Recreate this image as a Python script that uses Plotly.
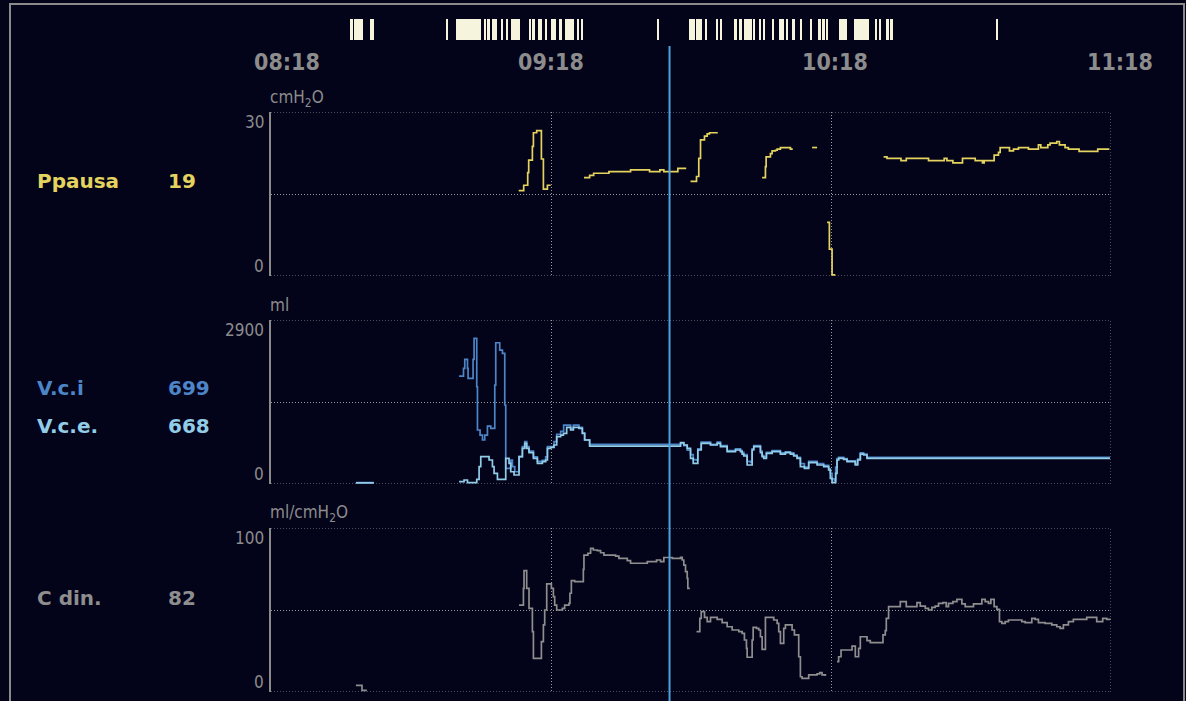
import plotly.graph_objects as go

# ---------------------------------------------------------------------------
# Time base: minutes after 08:18
# ---------------------------------------------------------------------------
time_ticks = [0, 60, 120, 180]
time_labels = ["08:18", "09:18", "10:18", "11:18"]
cursor_t = 85.4

# Ppausa (cmH2O) - None separates recording gaps
pp_t = [53.08, 54.15, 55.01, 55.22, 56.01, 56.23, 56.93, 57.94, 58.37, 59.23, 59.93, None,
        67.06, 68.28, 69.14, 72.41, 77.05, 81.12, 83.33, 84.18, 87.18, 88.98, None,
        89.90, 91.18, 91.67, 92.04, 92.89, 93.47, 93.96, 95.74, None,
        105.24, 105.95, 106.10, 107.02, 107.38, 108.09, 108.46, 109.16, 111.30, 111.80, None,
        115.95, 117.02, None,
        119.16, 119.65, 120.23, 120.93, None,
        131.27, 132.00, 135.00, 136.13, 140.90, 144.26, 144.84, 146.12, 148.18, 150.90,
        152.46, 152.82, 154.96, 155.89, 156.25, 158.24, 159.10, 160.17, 162.31, 164.45,
        164.96, 166.46, 166.95, 168.38, 168.94, 170.16, 170.87, 173.16, 177.16, 179.65]
pp_v = [15.6, 16.6, 18.9, 21.2, 23.7, 26.2, 26.6, 21.4, 15.9, 16.6, 16.6, None,
        18.0, 18.4, 18.8, 19.1, 19.4, 19.1, 19.4, 19.1, 19.7, 19.7, None,
        17.3, 18.2, 21.5, 24.9, 25.6, 26.0, 26.2, 26.2, None,
        18.0, 20.0, 21.8, 22.4, 22.9, 23.0, 23.2, 23.5, 23.2, 23.2, None,
        23.5, 23.5, None,
        9.8, 4.9, 0.2, 0.2, None,
        21.8, 21.5, 21.1, 21.5, 21.1, 21.5, 21.1, 20.7, 21.5, 21.1,
        20.7, 21.1, 22.1, 22.6, 23.5, 22.9, 23.2, 23.5, 23.2, 24.0,
        23.5, 24.0, 24.3, 24.6, 24.0, 23.5, 23.2, 22.8, 23.2, 23.2]

# V.c.e. - expired tidal volume (ml)
vce_t = [18.19, 22.05, None,
         40.30, 41.37, 42.10, 44.09, 44.59, 44.95, 46.02, 46.73, 47.45, 47.80, 48.52, 49.94,
         50.30, 51.01, 51.37, 52.08, 52.65, 53.15, 53.87, 54.37, 54.79, 55.29, 56.23, 57.08,
         58.15, 58.86, 59.23, 59.93, 60.64, 61.22, 62.07, 62.65, 63.36, 64.21, 64.79, 65.99,
         66.72, 67.21, 68.28, 87.05, 87.76, 88.46, 89.19, 89.90, 90.48, 91.18, 91.46, 92.19,
         94.18, 95.61, 96.32, 97.75, 99.53, 100.60, 100.96, 101.31, 102.03, 102.74, 103.10,
         103.45, 104.52, 104.88, 105.24, 105.59, 106.16, 107.38, 109.16, 110.23, 111.30,
         112.01, 112.73, 113.44, 114.30, 115.22, 117.02, 118.43, 119.50, 119.86, 120.23,
         120.72, 121.00, 121.29, 121.64, 122.71, 123.43, 125.21, 125.71, 126.28, 126.99,
         127.72, 179.79]
vce_v = [20, 20, None,
         41, 71, 23, 83, 306, 483, 483, 424, 306, 189, 83, 83,
         454, 366, 217, 159, 159, 483, 631, 720, 631, 554, 454, 366,
         395, 424, 631, 649, 690, 836, 866, 896, 1002, 955, 1002, 985,
         896, 778, 668, 668, 730, 690, 631, 454, 366, 366, 601, 720,
         690, 720, 660, 571, 601, 571, 530, 495, 336, 336, 601,
         660, 660, 554, 483, 454, 543, 571, 530, 554, 530,
         495, 454, 306, 278, 377, 336, 306, 248, 101, 23,
         23, 189, 424, 454, 437, 395, 336, 424, 530, 513,
         454, 454]

# V.c.i - inspired tidal volume (ml)
vci_t = [18.19, 22.05, None,
         40.30, 41.25, 41.52, 42.10, 42.23, 43.30, 43.52, 44.09, 44.24, 44.80, 45.31, 45.80,
         46.38, 47.09, 47.95, 48.16, 49.01, 49.59, 50.09, 50.30, 51.37, 51.73, 52.23, 52.80,
         53.15, 53.87, 54.37, 54.79, 55.29, 56.23, 57.08, 58.15, 58.86, 59.23, 60.64, 61.22,
         62.07, 62.71, 64.21, 64.79, 65.99, 66.72, 67.21, 68.28,
         87.05, 87.76, 88.46, 89.19, 89.90, 90.48, 91.18, 91.46, 92.19, 94.18, 95.61, 96.32,
         97.75, 99.53, 100.60, 100.96, 101.31, 102.03, 102.74, 103.10, 103.45, 104.52, 104.88,
         105.24, 105.59, 106.16, 107.38, 109.16, 110.23, 111.30, 112.01, 112.73, 113.44,
         114.30, 115.22, 117.02, 118.43, 119.50, 119.86, 120.23, 120.72, 121.00, 121.29,
         121.64, 122.71, 123.43, 125.21, 125.71, 126.28, 126.99, 127.72, 179.79]
vci_v = [25, 25, None,
         1909, 2045, 2204, 2045, 1869, 2204, 2576, 1720, 955, 866, 778, 866,
         1025, 985, 1750, 2498, 2369, 2311, 1397, 278, 424, 306, 217, 217,
         483, 660, 750, 660, 580, 480, 400, 420, 480, 660, 750, 880,
         930, 1040, 980, 1040, 1000, 900, 780, 699,
         699, 720, 680, 600, 520, 430, 420, 620, 740, 700, 740, 680,
         590, 620, 590, 560, 520, 400, 380, 620, 680, 680, 580,
         500, 480, 560, 590, 550, 570, 550, 510, 470, 360,
         300, 400, 360, 330, 270, 190, 90, 60, 300, 450,
         470, 450, 410, 350, 440, 550, 530, 470, 470]

# C din. - dynamic compliance (ml/cmH2O)
cd_t = [18.19, 19.50, 20.55, None,
        53.15, 54.09, 54.22, 54.79, 55.29, 56.01, 56.23, 57.94, 58.37, 58.65, 59.08, 60.08,
        60.51, 60.79, 61.22, 62.44, 62.93, 63.85, 64.06, 64.36, 65.07, 66.93, 67.06, 67.91,
        68.49, 69.07, 69.93, 70.63, 71.34, 73.84, 74.55, 76.35, 77.05, 80.63, 82.62, 83.48,
        84.18, 85.98, 87.76, 88.12, 88.46, 88.83, 89.19, 89.32, 89.75, None,
        91.18, 91.89, 92.19, 92.89, 93.47, 94.18, 95.61, 96.68, 97.75, 98.82, 100.24, 100.96,
        101.45, 101.88, 102.03, 103.10, 103.32, 104.02, 104.52, 104.88, 105.24, 105.95,
        107.73, 108.46, 108.80, 109.16, 109.87, 110.23, 111.66, 112.16, 113.08, 113.44,
        113.80, 115.22, 117.02, 117.58, 118.08, 118.79, None,
        121.29, 121.64, 122.15, 124.51, 125.21, 125.92, 126.28, 127.72, 128.42, 131.14,
        131.63, 131.85, 132.34, 134.85, 136.13, 138.42, 139.13, 140.20, 140.90, 141.63,
        142.34, 143.04, 143.98, 144.69, 145.18, 146.12, 146.98, 148.05, 148.76, 150.54,
        152.33, 153.04, 153.75, 154.26, 154.96, 155.55, 156.10, 156.61, 157.32, 158.02,
        160.89, 161.60, 163.03, 163.74, 164.45, 165.88, 167.31, 168.38, 169.09, 169.80,
        170.87, 171.94, 174.80, 176.94, 178.22, 179.08, 179.79]
cd_v = [4, 1, 1, None,
        53, 63.2, 74, 63.2, 51, 36.8, 20.5, 30.7, 40.9, 50, 65.9, 63.2,
        58.1, 53, 50, 51, 53, 54, 60.2, 67.9, 67.3, 74.8, 83.5, 84.6,
        87.6, 86.6, 86.2, 84.9, 83.5, 82.9, 81.5, 80.1, 78.5, 79.5, 80.5, 79.5,
        82, 81.5, 82.1, 80.5, 77.4, 73.4, 69.3, 63.2, 63.2, None,
        36.8, 44.9, 49, 45.5, 42.9, 45.5, 44.3, 42.3, 39.8, 37.8, 36.8, 35.8,
        31.7, 26.6, 21.2, 31.7, 39.4, 38.8, 37.8, 33.7, 26, 45.5,
        43.9, 41.9, 36.8, 29.7, 38.8, 40.9, 37.8, 34.8, 21.5, 9.3,
        8.3, 10.4, 11, 11.8, 10.4, 9.8, None,
        18.5, 21.5, 25.6, 28, 21.5, 26.6, 33.7, 31.3, 30.1, 34.8,
        37.4, 44.9, 52, 55.1, 52, 54.5, 52.4, 51, 50, 51.6,
        52.4, 54, 54.5, 52, 54, 55.1, 56.5, 53.7, 52, 53.7,
        56.5, 55.1, 54, 56.5, 52, 50.4, 42.9, 41.9, 42.9, 43.9,
        42.9, 42.3, 44.9, 44.3, 42.3, 41.9, 40.9, 39.8, 38.8, 40.9,
        42.9, 44.3, 45.5, 42.9, 44.9, 44.3, 43.9]

# Event log strip: start time and duration (minutes)
ev_start = [17.12, 17.83, 21.25, 37.67, 39.60, 45.65, 46.38, 47.45, 49.23, 50.30, 51.37,
            55.29, 56.01, 57.21, 58.65, 60.08, 61.71, 62.93, 65.65, 66.35, 82.62, 89.47,
            90.97, 93.02, 95.42, 96.23, 99.42, 100.38, 101.43, 103.42, 104.62, 105.44,
            107.43, 108.86, 110.47, 111.84, 113.42, 115.43, 117.42, 118.21, 119.03, 121.66,
            125.02, 129.43, 130.46, 131.98, 132.79, 155.26]
ev_dur = [0.36, 1.80, 0.73, 0.36, 5.35, 0.36, 0.56, 1.07, 0.58, 0.58, 1.99,
          0.36, 0.49, 0.94, 0.43, 0.92, 0.73, 1.99, 0.43, 0.58, 0.49, 1.28,
          1.28, 0.41, 0.41, 0.41, 0.41, 0.49, 1.58, 0.32, 0.41, 0.39,
          0.41, 1.13, 0.32, 0.39, 0.41, 0.47, 0.41, 0.41, 0.41, 1.76,
          3.04, 0.39, 0.32, 0.41, 0.39, 0.47]

# Panels: (unit, y max)
pp_unit, pp_max = "cmH<sub>2</sub>O", 30
vol_unit, vol_max = "ml", 2900
cd_unit, cd_max = "ml/cmH<sub>2</sub>O", 100


def value_at(ts, vs, t):
    """Step-hold value of a series at time t."""
    cur = None
    for a, b in zip(ts, vs):
        if a is None:
            continue
        if a <= t:
            cur = b
        else:
            break
    return cur


# ---------------------------------------------------------------------------
# Styling
# ---------------------------------------------------------------------------
W, H = 1186, 701
BG = "#03031a"
FRAME = "#8a8a8a"
GRID = "#9a9a9a"
TXT = "#8c8c8c"
C_PP = "#e4d35e"
C_VCI = "#4d86c8"
C_VCE = "#92cde8"
C_CD = "#8e8e8e"
C_CUR = "#4aa3dc"
C_EV = "#f6f4dc"
DOTS = "1px,2px"

NARROW = "DejaVu Sans Condensed, Liberation Sans Narrow, DejaVu Sans, sans-serif"
BOLD = "DejaVu Sans, sans-serif"

def px_x(p):
    return p / W

def px_y(p):
    return 1 - p / H

x_dom = [px_x(271), px_x(1111)]
panels = [
    (px_y(276), px_y(112)),
    (px_y(484), px_y(320)),
    (px_y(692), px_y(528)),
]

fig = go.Figure()

# event strip
fig.add_trace(go.Bar(
    x=[s + d / 2 for s, d in zip(ev_start, ev_dur)],
    y=[1] * len(ev_start),
    width=ev_dur,
    marker=dict(color=C_EV, line=dict(width=0)),
    xaxis="x4", yaxis="y4", hoverinfo="skip",
))

line_w = 1.7
fig.add_trace(go.Scatter(x=pp_t, y=pp_v, mode="lines", line=dict(color=C_PP, width=line_w, shape="hv"),
                         xaxis="x", yaxis="y", connectgaps=False, name="Ppausa"))
fig.add_trace(go.Scatter(x=vci_t, y=vci_v, mode="lines", line=dict(color=C_VCI, width=line_w, shape="hv"),
                         xaxis="x2", yaxis="y2", connectgaps=False, name="V.c.i"))
fig.add_trace(go.Scatter(x=vce_t, y=vce_v, mode="lines", line=dict(color=C_VCE, width=line_w, shape="hv"),
                         xaxis="x2", yaxis="y2", connectgaps=False, name="V.c.e."))
fig.add_trace(go.Scatter(x=cd_t, y=cd_v, mode="lines", line=dict(color=C_CD, width=line_w, shape="hv"),
                         xaxis="x3", yaxis="y3", connectgaps=False, name="C din."))

xcommon = dict(range=[0, 180], domain=x_dom, showticklabels=False, ticks="",
               tickvals=time_ticks[1:], showgrid=True, gridcolor=GRID, griddash=DOTS,
               gridwidth=1, zeroline=False, showline=False, fixedrange=True)
layout = dict(
    width=W, height=H, margin=dict(l=0, r=0, t=0, b=0),
    paper_bgcolor=BG, plot_bgcolor=BG, showlegend=False,
    xaxis=dict(**xcommon, anchor="y"),
    xaxis2=dict(**xcommon, anchor="y2", matches="x"),
    xaxis3=dict(**xcommon, anchor="y3", matches="x"),
    xaxis4=dict(range=[0, 180], domain=x_dom, visible=False, anchor="y4", matches="x"),
    yaxis4=dict(range=[0, 1], domain=[px_y(40), px_y(19)], visible=False, anchor="x4"),
    bargap=0,
)
ymaxes = [pp_max, vol_max, cd_max]
for i, (ymax, dom) in enumerate(zip(ymaxes, panels)):
    key = "yaxis" if i == 0 else f"yaxis{i + 1}"
    layout[key] = dict(range=[0, ymax], domain=list(dom), anchor="x" if i == 0 else f"x{i + 1}",
                       tickvals=[0, ymax / 2, ymax], showticklabels=False, ticks="",
                       showgrid=True, gridcolor=GRID, griddash=DOTS, gridwidth=1,
                       zeroline=False, showline=True, linecolor=FRAME, linewidth=1.5,
                       fixedrange=True)
fig.update_layout(**layout)

ann = []
# time labels above the strip
for t, lab, dx in zip(time_ticks, time_labels, [16, 0, 4, 9]):
    ann.append(dict(x=t, xref="x", y=px_y(62), yref="paper", text=lab, showarrow=False,
                    xanchor="center", yanchor="middle", xshift=dx,
                    font=dict(family=NARROW, size=23, color=TXT, weight="bold")))

# y extents and units per panel
yrefs = ["y", "y2", "y3"]
xrefs = ["x", "x2", "x3"]
units = [pp_unit, vol_unit, cd_unit]
unit_y = [98, 305, 513]
for yr, ymax, unit, uy in zip(yrefs, ymaxes, units, unit_y):
    ann.append(dict(x=px_x(266), xref="paper", y=ymax, yref=yr, text=str(ymax), showarrow=False,
                    xanchor="right", yanchor="top", yshift=2,
                    font=dict(family=NARROW, size=17, color=TXT)))
    ann.append(dict(x=px_x(266), xref="paper", y=0, yref=yr, text="0", showarrow=False,
                    xanchor="right", yanchor="bottom", yshift=-2,
                    font=dict(family=NARROW, size=17, color=TXT)))
    ann.append(dict(x=px_x(268), xref="paper", y=px_y(uy), yref="paper", text=unit, showarrow=False,
                    xanchor="left", yanchor="middle",
                    font=dict(family=NARROW, size=17, color=TXT)))

# current values at the cursor
readouts = [
    ("Ppausa", value_at(pp_t, pp_v, cursor_t), C_PP, 181),
    ("V.c.i", value_at(vci_t, vci_v, cursor_t), C_VCI, 388),
    ("V.c.e.", value_at(vce_t, vce_v, cursor_t), C_VCE, 426),
    ("C din.", value_at(cd_t, cd_v, cursor_t), C_CD, 598),
]
for name, val, col, yy in readouts:
    ann.append(dict(x=px_x(35), xref="paper", y=px_y(yy), yref="paper", text=name, showarrow=False,
                    xanchor="left", yanchor="middle",
                    font=dict(family=BOLD, size=20, color=col, weight="bold")))
    ann.append(dict(x=px_x(166), xref="paper", y=px_y(yy), yref="paper", text=f"{round(val)}",
                    showarrow=False, xanchor="left", yanchor="middle",
                    font=dict(family=BOLD, size=20, color=col, weight="bold")))

fig.update_layout(annotations=ann)

# dotted border of each panel (top, bottom and right edges)
edge = dict(color=GRID, width=1, dash=DOTS)
for xr, yr, ymax in zip(xrefs, yrefs, ymaxes):
    fig.add_shape(type="line", xref=xr, yref=yr, x0=0, x1=180, y0=ymax, y1=ymax,
                  line=edge, layer="below")
    fig.add_shape(type="line", xref=xr, yref=yr, x0=0, x1=180, y0=0, y1=0,
                  line=edge, layer="below")
    fig.add_shape(type="line", xref=xr, yref=yr, x0=180, x1=180, y0=0, y1=ymax,
                  line=edge, layer="below")

# outer frame and time cursor
fig.add_shape(type="rect", xref="paper", yref="paper", x0=px_x(10), x1=px_x(1184),
              y0=-0.05, y1=px_y(4), line=dict(color=FRAME, width=2), layer="below")
fig.add_shape(type="line", xref="x", yref="paper", x0=cursor_t, x1=cursor_t,
              y0=-0.01, y1=px_y(46), line=dict(color=C_CUR, width=2), layer="above")

fig.write_html("out.html")
